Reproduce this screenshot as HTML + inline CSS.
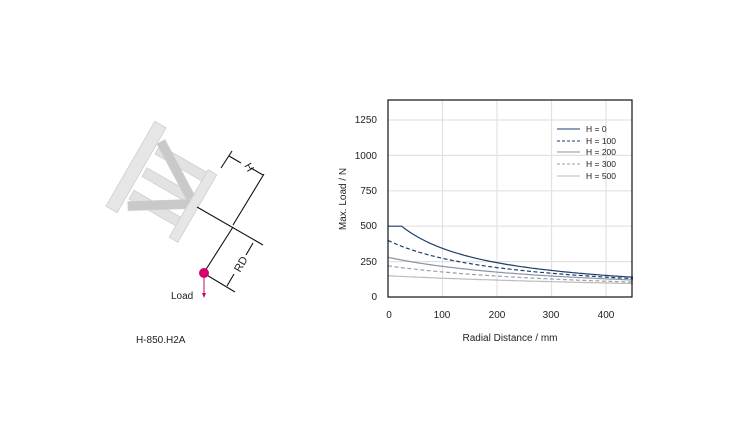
<!DOCTYPE html>
<html><head><meta charset="utf-8"><style>
html,body{margin:0;padding:0;background:#fff;}
svg{display:block;font-family:"Liberation Sans",Arial,sans-serif;}
</style></head><body>
<svg id="s" width="750" height="422" viewBox="0 0 750 422">
<!-- diagram -->
<g stroke="#cfcfcf" stroke-width="0.8">
 <!-- struts (perpendicular to plates) -->
 <g transform="translate(170,188) rotate(30)" fill="#e2e2e2">
  <rect x="-30" y="-32" width="60" height="10"/>
  <rect x="-30" y="-6" width="60" height="10"/>
  <rect x="-30" y="20" width="60" height="10"/>
 </g>
 <g transform="translate(176,170) rotate(62)" fill="#c9c9c9"><rect x="-32" y="-4.5" width="64" height="9"/></g>
 <g transform="translate(160,205) rotate(-2)" fill="#c9c9c9"><rect x="-32" y="-4.5" width="64" height="9"/></g>
 <g transform="translate(136,167) rotate(30)" fill="#e6e6e6"><rect x="-6.5" y="-49" width="13" height="98"/></g>
 <g transform="translate(193,206) rotate(30)" fill="#e6e6e6"><rect x="-5" y="-39" width="10" height="78"/></g>
</g>
<g stroke="#111" stroke-width="1.1" fill="none">
 <line x1="197" y1="207" x2="263" y2="245"/>
 <line x1="264" y1="174" x2="233" y2="225"/>
 <line x1="233" y1="227" x2="205" y2="271"/>
 <line x1="205" y1="274" x2="235" y2="292"/>
 <line x1="221" y1="168" x2="232" y2="151"/>
 <line x1="229" y1="156" x2="241" y2="163"/>
 <line x1="251" y1="168" x2="263" y2="175"/>
 <line x1="253" y1="243" x2="246" y2="255"/>
 <line x1="234" y1="274" x2="227" y2="286"/>
</g>
<text x="0" y="0" font-size="11" fill="#222" text-anchor="middle" transform="translate(246,169) rotate(60)">H</text>
<text x="0" y="0" font-size="11" fill="#222" text-anchor="middle" transform="translate(244,266) rotate(-60)">RD</text>
<circle cx="204" cy="273" r="5" fill="#d4006a"/>
<line x1="204" y1="275" x2="204" y2="296" stroke="#d4006a" stroke-width="1"/>
<path d="M202,293 L204,298 L206,293Z" fill="#d4006a"/>
<text x="171" y="299" font-size="10" fill="#222">Load</text>
<text x="136" y="343" font-size="10" fill="#222">H-850.H2A</text>
<!-- chart -->
<g stroke="#e2e2e2" stroke-width="1.2">
 <line x1="442.5" y1="100" x2="442.5" y2="297"/>
 <line x1="497" y1="100" x2="497" y2="297"/>
 <line x1="551.5" y1="100" x2="551.5" y2="297"/>
 <line x1="606" y1="100" x2="606" y2="297"/>
 <line x1="388" y1="261.6" x2="632" y2="261.6"/>
 <line x1="388" y1="226.2" x2="632" y2="226.2"/>
 <line x1="388" y1="190.8" x2="632" y2="190.8"/>
 <line x1="388" y1="155.4" x2="632" y2="155.4"/>
 <line x1="388" y1="120" x2="632" y2="120"/>
</g>
<g id="curves" fill="none"></g>
<rect x="388" y="100" width="244" height="197" fill="none" stroke="#111" stroke-width="1.2"/>
<g font-size="10" fill="#222" text-anchor="end">
 <text x="377" y="300">0</text><text x="377" y="265">250</text><text x="377" y="229">500</text>
 <text x="377" y="194">750</text><text x="377" y="159">1000</text><text x="377" y="123">1250</text>
</g>
<g font-size="10" fill="#222" text-anchor="middle">
 <text x="389" y="318">0</text><text x="442" y="318">100</text><text x="497" y="318">200</text>
 <text x="551" y="318">300</text><text x="606" y="318">400</text>
 <text x="510" y="341">Radial Distance / mm</text>
</g>
<text font-size="10" fill="#222" text-anchor="middle" transform="translate(346,199) rotate(-90)">Max. Load / N</text>
<g font-size="8.5" fill="#222">
 <text x="586" y="132">H = 0</text><text x="586" y="144">H = 100</text><text x="586" y="155">H = 200</text>
 <text x="586" y="167">H = 300</text><text x="586" y="179">H = 500</text>
</g>
<g stroke-width="1">
 <line x1="557" y1="129" x2="580" y2="129" stroke="#1b3f6b"/>
 <line x1="557" y1="141" x2="580" y2="141" stroke="#1b3f6b" stroke-dasharray="3,2"/>
 <line x1="557" y1="152" x2="580" y2="152" stroke="#8a94a6"/>
 <line x1="557" y1="164" x2="580" y2="164" stroke="#9aa0aa" stroke-dasharray="3,2"/>
 <line x1="557" y1="176" x2="580" y2="176" stroke="#bbbbbb"/>
</g>
</svg>
<script>
var g=document.getElementById('curves');
var defs=[[82500,140,500,'#1b3f6b',''],[86700,217,1e9,'#1b3f6b','4,2.5'],[94500,337,1e9,'#8a94a6',''],[90400,411,1e9,'#9aa0aa','4,2.5'],[116600,777,1e9,'#bbbbbb','']];
defs.forEach(function(d){var p='';for(var x=0;x<=450;x+=5){var v=Math.min(d[2],d[0]/(x+d[1]));p+=(x?'L':'M')+(388+x*0.5444).toFixed(1)+','+(297-v*0.1416).toFixed(1);}
var e=document.createElementNS('http://www.w3.org/2000/svg','path');e.setAttribute('d',p);e.setAttribute('stroke',d[3]);e.setAttribute('stroke-width','1.2');if(d[4])e.setAttribute('stroke-dasharray',d[4]);g.appendChild(e);});
</script>
</body></html>
